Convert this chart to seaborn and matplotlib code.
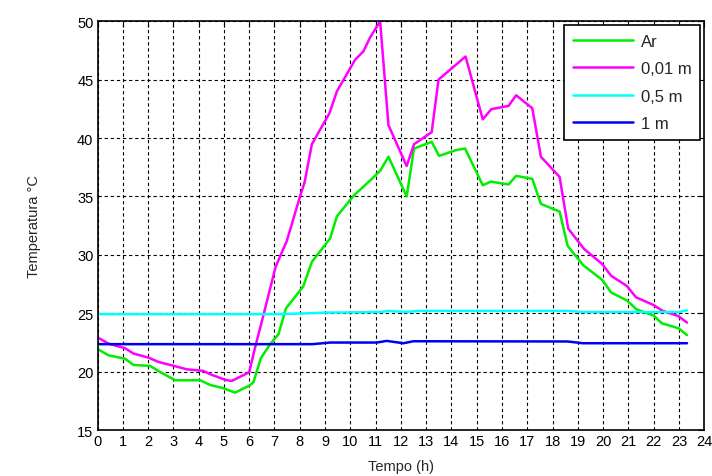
import numpy as np
import pandas as pd
import matplotlib
matplotlib.use("Agg")
import matplotlib.pyplot as plt
import seaborn as sns

# Temperature readings over one day (time in hours, temperature in °C)
t_ar = [0.03, 0.43, 1.09, 1.42, 2.08, 2.47, 3.07, 4.06, 4.45, 4.98, 5.44, 6.03,
        6.17, 6.46, 6.83, 7.16, 7.45, 8.14, 8.48, 9.2, 9.47, 10.15, 10.8, 11.18,
        11.51, 12.23, 12.52, 13.22, 13.51, 14.21, 14.54, 15.24, 15.56, 16.26,
        16.56, 17.2, 17.54, 18.28, 18.6, 19.22, 19.97, 20.32, 20.94, 21.32,
        22.0, 22.33, 22.98, 23.32]
v_ar = [21.9, 21.4, 21.1, 20.57, 20.49, 19.97, 19.26, 19.26, 18.86, 18.58, 18.2, 18.83,
        19.1, 21.15, 22.35, 23.2, 25.4, 27.3, 29.4, 31.4, 33.3, 35.1, 36.4, 37.2,
        38.4, 35.0, 39.1, 39.67, 38.47, 38.98, 39.1, 35.96, 36.27, 36.02,
        36.76, 36.5, 34.36, 33.7, 30.76, 29.1, 27.85, 26.77, 26.1, 25.34,
        24.8, 24.13, 23.72, 23.13]

t_001 = [0.03, 0.43, 1.09, 1.42, 2.01, 2.41, 3.0, 3.53, 4.19, 4.45, 5.05, 5.31,
         6.0, 6.26, 6.5, 7.05, 7.49, 8.01, 8.19, 8.48, 8.74, 9.17, 9.47, 10.19,
         10.52, 10.78, 11.18, 11.51, 12.23, 12.52, 13.22, 13.49, 14.56, 15.24,
         15.58, 16.26, 16.56, 17.2, 17.54, 18.28, 18.62, 19.25, 19.97, 20.32,
         20.94, 21.3, 22.0, 22.33, 22.98, 23.32]
v_001 = [22.9, 22.4, 22.0, 21.55, 21.2, 20.83, 20.5, 20.2, 20.06, 19.78, 19.3, 19.2,
         19.95, 22.3, 24.3, 29.0, 31.2, 35.0, 36.2, 39.47, 40.47, 42.1, 44.0, 46.7,
         47.43, 48.6, 50.0, 41.1, 37.6, 39.47, 40.5, 45.0, 46.98, 41.6,
         42.47, 42.75, 43.66, 42.55, 38.4, 36.67, 32.25, 30.5, 29.2, 28.2,
         27.34, 26.37, 25.7, 25.23, 24.75, 24.2]

t_05 = [0.0, 7.0, 8.0, 9.0, 11.2, 11.5, 12.2, 12.7, 18.6, 19.2, 23.0, 23.32]
v_05 = [24.92, 24.92, 24.97, 25.05, 25.1, 25.2, 25.1, 25.2, 25.2, 25.1, 25.1, 25.25]

t_1 = [0.0, 8.5, 9.2, 11.05, 11.44, 12.1, 12.5, 18.6, 19.2, 23.32]
v_1 = [22.35, 22.35, 22.49, 22.49, 22.63, 22.43, 22.6, 22.58, 22.43, 22.43]

series_names = ["Ar", "0,01 m", "0,5 m", "1 m"]
series_colors = ["#00ee00", "#ff00ff", "#00ffff", "#0000ee"]

df = pd.concat([
    pd.DataFrame({"Tempo": t, "Temp": v, "Serie": name})
    for t, v, name in zip([t_ar, t_001, t_05, t_1], [v_ar, v_001, v_05, v_1], series_names)
], ignore_index=True)

sns.set_style("white")
plt.rcParams['font.family'] = ['Liberation Sans', 'DejaVu Sans']

fig = plt.figure(figsize=(7.12, 4.77), dpi=100)
ax = fig.add_axes([0.137, 0.0964, 0.852, 0.857])

sns.lineplot(data=df, x="Tempo", y="Temp", hue="Serie", hue_order=series_names,
             palette=series_colors, estimator=None, sort=False, linewidth=1.8, ax=ax)

ax.set_xlim(0, 24)
ax.set_ylim(15, 50)
ax.set_xticks(np.arange(0, 25, 1))
ax.set_yticks(np.arange(15, 51, 5))
ax.grid(True, color="black", linestyle=(0, (3, 2.5)), linewidth=0.8)
ax.set_axisbelow(True)
for s in ax.spines.values():
    s.set_color("black")
    s.set_linewidth(1.2)
ax.tick_params(direction="in", length=4, width=0.8, top=True, right=True,
               labelsize=10.5, colors="black", pad=3)

ax.set_xlabel("Tempo (h)", fontsize=10.5, labelpad=8)
ax.set_ylabel("Temperatura °C", fontsize=10.5, labelpad=26)

handles, labels = ax.get_legend_handles_labels()
leg = ax.legend(handles, labels, loc="upper right", fontsize=12, frameon=True,
                fancybox=False, edgecolor="black", framealpha=1, handlelength=3.6,
                borderpad=0.5, labelspacing=0.75, handletextpad=0.5,
                borderaxespad=0.25)
leg.get_frame().set_linewidth(1.2)

plt.savefig("out.png", dpi=100)
